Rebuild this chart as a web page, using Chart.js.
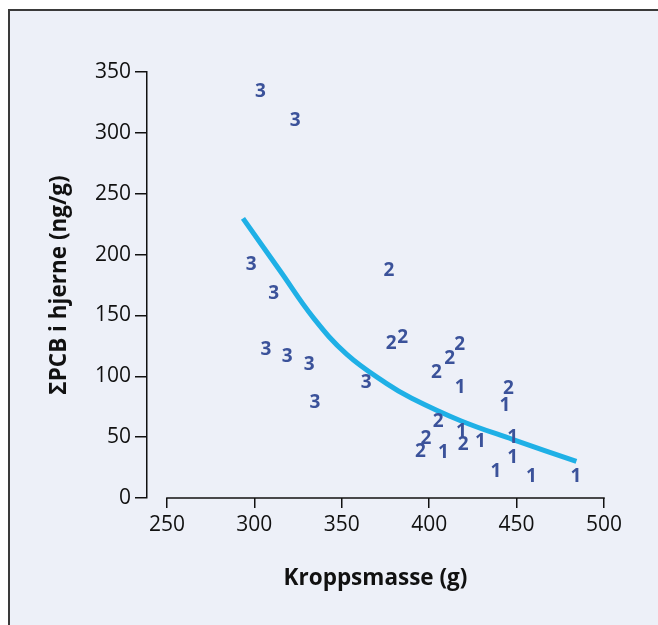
<!DOCTYPE html>
<html>
<head>
<meta charset="utf-8">
<script src="https://cdn.jsdelivr.net/npm/chart.js@4"></script>
<style>
html, body { margin: 0; padding: 0; background: #fff; width: 658px; height: 625px; overflow: hidden; }
#panel { position: absolute; left: 8px; top: 9px; width: 670px; height: 640px; border-top: 2px solid #3a3a3a; border-left: 2px solid #3a3a3a; background: #edf0f8; }
#wrap { position: absolute; left: 0; top: 0; width: 658px; height: 625px; }
</style>
</head>
<body>
<div id="panel"></div>
<div id="wrap"><canvas id="chart"></canvas></div>
<script>
var xTicks = [250, 300, 350, 400, 450, 500];
var yTicks = [0, 50, 100, 150, 200, 250, 300, 350];

// gruppe 3
var group3X = [303.5, 323.3, 298.2, 311.1, 306.6, 318.8, 331.3, 334.6, 363.9];
var group3Y = [335.3, 311.4, 193.0, 169.4, 123.3, 117.8, 111.2, 80.1, 95.8];
// gruppe 2
var group2X = [377.0, 378.2, 384.9, 404.1, 411.8, 417.5, 445.3, 405.1, 398.1, 395.0, 419.5];
var group2Y = [188.1, 128.2, 133.1, 104.7, 115.5, 127.6, 90.9, 63.8, 50.0, 39.3, 45.1];
// gruppe 1
var group1X = [417.8, 443.4, 418.5, 408.2, 429.3, 447.7, 447.7, 438.2, 458.5, 483.9];
var group1Y = [92.2, 76.9, 55.6, 38.3, 47.4, 50.7, 34.3, 22.9, 19.0, 19.0];

// kurve lest av figuren
var curveX = [293.5, 314.8, 333.8, 352.9, 375.7, 390, 418, 448, 484.2];
var curveY = [229.7, 186.5, 148.0, 118.0, 94.0, 82.0, 63.5, 48.0, 30.0];

function toPoints(xs, ys) {
    return xs.map(function(x, i) { return {x: x, y: ys[i]}; });
}

var digitPlugin = {
    id: 'digits',
    afterDatasetsDraw: function(chart) {
        var ctx = chart.ctx;
        ctx.save();
        ctx.fillStyle = '#3b529a';
        ctx.font = 'bold 19px "Open Sans"';
        ctx.textAlign = 'center';
        ctx.textBaseline = 'alphabetic';
        chart.data.datasets.forEach(function(ds, i) {
            if (!ds.digit) return;
            chart.getDatasetMeta(i).data.forEach(function(el) {
                ctx.fillText(ds.digit, el.x, el.y + 7);
            });
        });
        ctx.restore();
    }
};

var xAxisLine = {
    id: 'xAxisLine',
    afterDraw: function(chart) {
        var ctx = chart.ctx;
        var x = chart.scales.x;
        var y = chart.scales.y.getPixelForValue(0);
        ctx.save();
        ctx.strokeStyle = '#111';
        ctx.lineWidth = 1.5;
        ctx.beginPath();
        ctx.moveTo(x.getPixelForValue(xTicks[0]) - 0.75, y);
        ctx.lineTo(x.getPixelForValue(xTicks[xTicks.length - 1]) + 0.75, y);
        ctx.stroke();
        ctx.restore();
    }
};

var tickFont = {family: '"Open Sans"', size: 21};
var titleFont = {family: '"Open Sans"', size: 22.5, weight: 'bold'};

var ctx = document.getElementById('chart').getContext('2d');
var myChart = new Chart(ctx, {
    type: 'scatter',
    data: {
        datasets: [{
            type: 'line',
            data: toPoints(curveX, curveY),
            borderColor: '#1fb0e6',
            borderWidth: 5,
            pointRadius: 0,
            tension: 0.4,
            fill: false
        }, {
            data: toPoints(group3X, group3Y),
            digit: '3',
            pointRadius: 0
        }, {
            data: toPoints(group2X, group2Y),
            digit: '2',
            pointRadius: 0
        }, {
            data: toPoints(group1X, group1Y),
            digit: '1',
            pointRadius: 0
        }]
    },
    options: {
        responsive: true,
        maintainAspectRatio: false,
        animation: false,
        layout: {padding: {left: 0, top: 72, right: 54, bottom: 0}},
        plugins: {legend: {display: false}, tooltip: {enabled: false}},
        scales: {
            x: {
                type: 'linear',
                min: 238.6,
                max: 500,
                afterBuildTicks: function(s) { s.ticks = xTicks.map(function(v) { return {value: v}; }); },
                afterFit: function(s) { s.height = 127; },
                ticks: {font: tickFont, color: '#111', padding: 4, maxRotation: 0},
                grid: {drawOnChartArea: false, drawTicks: true, tickLength: 10, color: '#111', lineWidth: 1.5},
                border: {display: false},
                title: {display: true, text: 'Kroppsmasse (g)', font: titleFont, color: '#111', padding: {top: 0, bottom: 33}}
            },
            y: {
                min: 0,
                max: 350,
                afterBuildTicks: function(s) { s.ticks = yTicks.map(function(v) { return {value: v}; }); },
                afterFit: function(s) { s.width = 147; },
                ticks: {font: tickFont, color: '#111', padding: 4},
                grid: {drawOnChartArea: false, drawTicks: true, tickLength: 12, color: '#111', lineWidth: 1.5},
                border: {display: true, color: '#111', width: 1.5},
                title: {display: true, text: 'ΣPCB i hjerne (ng/g)', font: titleFont, color: '#111', padding: {top: 46, bottom: 0}}
            }
        }
    },
    plugins: [digitPlugin, xAxisLine]
});
</script>
</body>
</html>
